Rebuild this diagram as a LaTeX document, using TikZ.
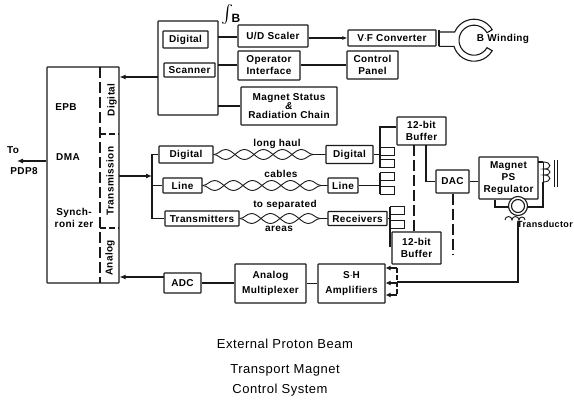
\documentclass[tikz,border=0pt]{standalone}
\usepackage{fontspec}
\setmainfont[LetterSpace=4]{Liberation Sans}
\usetikzlibrary{arrows.meta,decorations.pathmorphing}
\tikzset{
  ln/.style={line width=1.1pt,black!90},
  bx/.style={draw=black!90,line width=1.2pt,inner sep=0pt,align=center,font=\fontsize{10}{12}\selectfont\bfseries,rounded corners=0.6pt},
  tx/.style={inner sep=0pt,align=center,font=\fontsize{10}{12.5}\selectfont\bfseries},
  captxt/.style={inner sep=0pt,font=\fontsize{13}{15}\selectfont},
  tp/.style={draw=black!90,line width=1pt,inner sep=0pt,minimum width=14pt,minimum height=8pt},
  twa/.style={ln,line width=0.9pt,decorate,decoration={snake,segment length=38pt,amplitude=5pt}},
  twb/.style={ln,line width=0.9pt,decorate,decoration={snake,segment length=38pt,amplitude=-5pt}},
  hd/.style={-{Latex[length=6pt,width=5pt]}},
  dsh/.style={ln,dash pattern=on 11pt off 4pt}
}
\begin{document}
\begin{tikzpicture}[x=1pt,y=-1pt]
\useasboundingbox (0,0) rectangle (574,401);
\fill[white] (0,0) rectangle (574,401);
% main rack
\node[bx,minimum width=72pt,minimum height=216pt] (main) at (83,175) {};
\coordinate (dt) at (100,67); \coordinate (db) at (100,283);
\draw[dsh] (dt) -- (db);
\coordinate (h1a) at (100,134); \coordinate (h1b) at (119,134);
\coordinate (h2a) at (100,228); \coordinate (h2b) at (119,228);
\draw[ln,dash pattern=on 6pt off 3pt] (h1a) -- (h1b) (h2a) -- (h2b);
\node[tx] (epb) at (66,107) {EPB};
\node[tx] (dma) at (68,157) {DMA};
\node[tx] (syn) at (74,218) {Synch-\\roni zer};
\node[tx,rotate=90] (rd) at (112,100) {Digital};
\node[tx,rotate=90] (rt) at (110,181) {Transmission};
\node[tx,rotate=90] (ra) at (110,258) {Analog};
\node[tx] (to) at (13,150) {To};
\node[tx] (pdp) at (24,171) {PDP8};
\coordinate (pa) at (17,161);
\draw[ln,hd] (main.west |- pa) -- (pa);
% scanner panel
\node[bx,minimum width=60pt,minimum height=94pt] (panel) at (188,68) {};
\node[bx,minimum width=45pt,minimum height=17pt] (dig) at (185.5,39.5) {Digital};
\node[bx,minimum width=51pt,minimum height=14pt] (scan) at (189.5,70) {Scanner};
\node[inner sep=0pt,scale=1.8] (int) at (227,15) {$\int$};
\node[tx,font=\fontsize{12}{12}\selectfont\bfseries] (bb) at (236,18) {B};
\node[bx,minimum width=70pt,minimum height=22pt] (ud) at (273,36) {U/D Scaler};
\node[bx,minimum width=62pt,minimum height=29pt] (op) at (269,65.5) {Operator\\Interface};
\node[bx,minimum width=51pt,minimum height=28pt] (cp) at (372.5,65) {Control\\Panel};
\node[bx,minimum width=96pt,minimum height=38pt] (ms) at (289,106) {Magnet Status\\[-3pt]{\itshape\&}\\[-3pt]Radiation Chain};
\node[bx,minimum width=88pt,minimum height=16pt] (vf) at (392,38) {V$\cdot$F Converter};
\coordinate (r1) at (218,37); \coordinate (r2) at (218,65); \coordinate (r3) at (218,106);
\draw[ln] (r1) -- (ud.west |- r1);
\draw[ln] (r2) -- (op.west |- r2);
\draw[ln] (r3) -- (ms.west |- r3);
\draw[ln,-{Latex[length=5pt,width=4pt]}] (ud.east |- vf.west) -- (vf.west);
\draw[ln] (op.east |- cp.west) -- (cp.west);
\coordinate (sc) at (158,77);
\draw[ln,hd] (sc) -- (main.east |- sc);
% B winding
\draw[ln] (439,30) -- (439,46);
\draw[ln] (439,32) -- (454.7,32)
  arc[start angle=157,end angle=30,radius=21pt]
  -- ++(-5.2,3)
  arc[start angle=30,end angle=330,radius=15pt]
  -- ++(5.2,3)
  arc[start angle=-30,end angle=-163,radius=21pt]
  -- ++(-15,0);
\node[tx] (bw) at (503,39) {B Winding};
% transmission
\coordinate (t0) at (119,176); \coordinate (bus) at (152,176);
\draw[ln,hd] (t0) -- (bus);
\node[bx,minimum width=54pt,minimum height=17pt] (d1) at (186,154.5) {Digital};
\node[bx,minimum width=39pt,minimum height=15pt] (l1) at (182.5,185.5) {Line};
\node[bx,minimum width=74pt,minimum height=15pt] (t1) at (202,218.5) {Transmitters};
\node[bx,minimum width=47pt,minimum height=18pt] (d2) at (349.5,154.5) {Digital};
\node[bx,minimum width=30pt,minimum height=15pt] (l2) at (343,185.5) {Line};
\node[bx,minimum width=59pt,minimum height=14pt] (r2x) at (357.5,218.5) {Receivers};
\draw[ln] (d1.west) -| (bus) |- (t1.west);
\draw[ln] (bus |- l1.west) -- (l1.west);
\draw[twa] (d1.east) -- (d2.west); \draw[twb] (d1.east) -- (d2.west);
\draw[twa] (l1.east) -- (l2.west); \draw[twb] (l1.east) -- (l2.west);
\draw[twa] (t1.east) -- (r2x.west); \draw[twb] (t1.east) -- (r2x.west);
\node[tx] (lh) at (277,144) {long haul};
\node[tx] (cb) at (281,174) {cables};
\node[tx] (ts) at (285,205) {to separated};
\node[tx] (ar) at (279,229) {areas};
% terminal stacks
\node[tp] (s1) at (387,152) {};
\node[tp] (s2) at (387,164) {};
\node[tp] (s3) at (387,177) {};
\node[tp] (s4) at (387,190.5) {};
\node[tp] (s5) at (397.5,211) {};
\node[tp] (s6) at (397.5,225) {};
\node[bx,minimum width=49pt,minimum height=28pt] (b1) at (421.5,131) {12-bit\\Buffer};
\node[bx,minimum width=49pt,minimum height=32pt] (b2) at (416.5,248) {12-bit\\Buffer};
\coordinate (v1) at (380,127); \coordinate (v2) at (380,168);
\draw[ln] (b1.west |- v1) -- (v1) -- (v2);
\draw[ln] (d2.east) -- (d2.east -| v1);
\coordinate (v3) at (380,173); \coordinate (v4) at (380,194);
\draw[ln] (v3) -- (v4);
\draw[ln] (l2.east) -- (l2.east -| v3);
\coordinate (v5) at (390,207); \coordinate (v6) at (390,247);
\draw[ln] (v5) -- (v6);
\draw[ln] (r2x.east) -- (r2x.east -| v5);
\coordinate (bd) at (414,145);
\draw[dsh] (bd) -- (bd |- b2.north);
% DAC, regulator
\node[bx,minimum width=33pt,minimum height=23pt] (dac) at (452.5,181.5) {DAC};
\node[bx,minimum width=59pt,minimum height=42pt] (reg) at (508.5,178) {Magnet\\PS\\Regulator};
\coordinate (ba) at (426,145);
\draw[ln] (ba) |- (dac.west);
\draw[ln] (dac.east) -- (reg.west |- dac.east);
\coordinate (dd) at (453,255);
\draw[ln,dash pattern=on 11pt off 4pt] (dac.south -| dd) -- (dd);
% coil and core
\coordinate (c0) at (538,162); \coordinate (c1) at (543,162); \coordinate (c2) at (543,182);
\draw[ln] (c0) -- (c1);
\draw[ln,line width=0.9pt] (c1) .. controls (552,162) and (552,169) .. (544,169) .. controls (552,169) and (552,175) .. (544,175) .. controls (552,175) and (552,182) .. (c2);
\draw[ln,line width=0.9pt] (c1) -- (c2);
\draw[ln,line width=0.9pt] (554,160) -- (554,187) (557,160) -- (557,187);
\coordinate (c3) at (543,207); \coordinate (c4) at (495,207);
\draw[ln] (c2) -- (c3) -- (c4) -- (c4 |- reg.south);
% transducer
\coordinate (tc) at (518,206);
\draw[ln,fill=white] (tc) circle[radius=9.5pt];
\draw[ln] (tc) circle[radius=6.5pt];
\coordinate (tl) at (505,220);
\draw[ln,line width=0.9pt] (tl) arc[start angle=180,end angle=0,radius=3.5pt] arc[start angle=180,end angle=0,radius=3.5pt] arc[start angle=180,end angle=0,radius=3pt];
\node[tx,anchor=west,font=\fontsize{9}{11}\selectfont\bfseries] (trd) at (517,224) {Transductor};
% bottom row
\node[bx,minimum width=37pt,minimum height=20pt] (adc) at (182.5,283) {ADC};
\node[bx,minimum width=71pt,minimum height=39pt] (mux) at (270.5,283.5) {Analog\\[3pt]Multiplexer};
\node[bx,minimum width=67pt,minimum height=39pt] (sh) at (351.5,283.5) {S$\cdot$H\\[3pt]Amplifiers};
\coordinate (a0) at (164,277);
\draw[ln,hd] (a0) -- (main.east |- a0);
\draw[ln] (adc.east) -- (mux.west |- adc.east);
\draw[ln] (mux.east) -- (sh.west);
\coordinate (p1) at (397,268); \coordinate (p2) at (397,283); \coordinate (p3) at (397,295);
\draw[ln,dash pattern=on 5pt off 2pt] (p1) -- (p3);
\draw[ln,-{Latex[length=5pt,width=5pt]}] (p1) -- (sh.east |- p1);
\draw[ln,-{Latex[length=5pt,width=5pt]}] (p2) -- (sh.east |- p2);
\draw[ln,-{Latex[length=5pt,width=5pt]}] (p3) -- (sh.east |- p3);
\coordinate (wr) at (518,282);
\draw[ln] (trd.west) ++(1,-2) -- (wr) -- (p2 |- wr);
% caption
\node[captxt] (c1t) at (285,344) {External Proton Beam};
\node[captxt] (c2t) at (285,370) {Transport Magnet};
\node[captxt] (c3t) at (280,390) {Control System};
\end{tikzpicture}
\end{document}
